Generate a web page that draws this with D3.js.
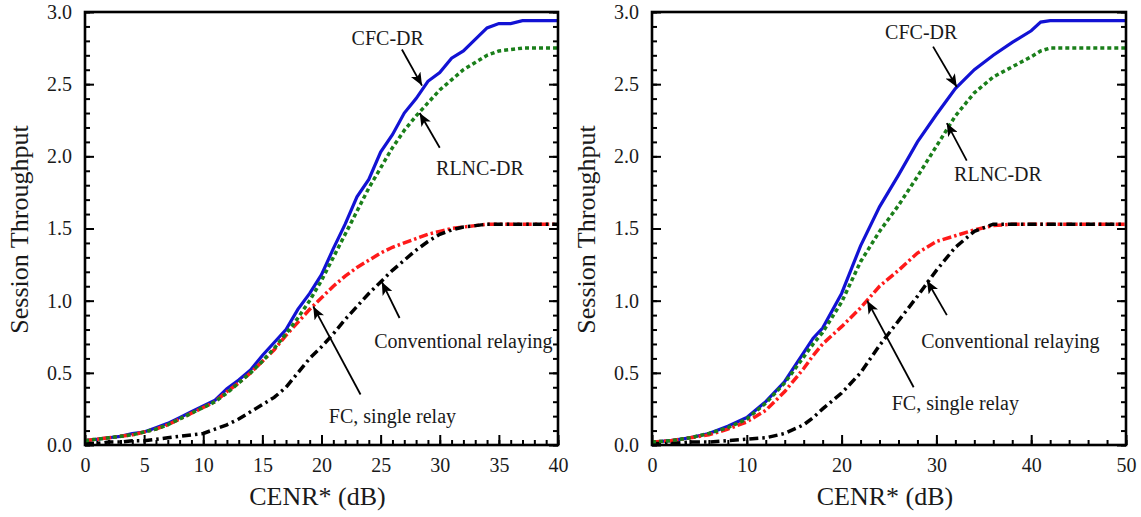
<!DOCTYPE html>
<html>
<head>
<meta charset="utf-8">
<script src="https://cdn.jsdelivr.net/npm/d3@7"></script>
<style>
  body { margin: 0; background: #fff; }
  text { font-family: "Liberation Serif", "Times New Roman", serif; fill: #1a1a1a; }
</style>
</head>
<body>
<div id="canvas"></div>
<script>
// ---- data ----
const snrLeft = d3.range(0, 41, 1);
const cfcLeft = [0.03, 0.04, 0.05, 0.06, 0.08, 0.09, 0.12, 0.15, 0.19, 0.23, 0.27, 0.31, 0.39, 0.45, 0.52, 0.62, 0.71, 0.80, 0.94, 1.05, 1.18, 1.36, 1.53, 1.72, 1.84, 2.03, 2.15, 2.30, 2.40, 2.52, 2.58, 2.68, 2.73, 2.81, 2.89, 2.92, 2.92, 2.94, 2.94, 2.94, 2.94];
const rlncLeft = [0.03, 0.04, 0.05, 0.06, 0.07, 0.09, 0.11, 0.14, 0.18, 0.22, 0.26, 0.30, 0.36, 0.43, 0.50, 0.58, 0.67, 0.77, 0.88, 1.00, 1.14, 1.30, 1.46, 1.62, 1.78, 1.92, 2.06, 2.18, 2.28, 2.37, 2.46, 2.53, 2.60, 2.65, 2.70, 2.73, 2.74, 2.75, 2.75, 2.75, 2.75];
const fcLeft = [0.03, 0.04, 0.05, 0.06, 0.07, 0.09, 0.11, 0.14, 0.18, 0.22, 0.26, 0.30, 0.37, 0.43, 0.50, 0.58, 0.66, 0.76, 0.85, 0.94, 1.02, 1.10, 1.17, 1.23, 1.28, 1.33, 1.37, 1.40, 1.43, 1.46, 1.48, 1.50, 1.51, 1.52, 1.53, 1.53, 1.53, 1.53, 1.53, 1.53, 1.53];
const convLeft = [0.01, 0.01, 0.02, 0.02, 0.03, 0.03, 0.04, 0.05, 0.06, 0.07, 0.08, 0.11, 0.14, 0.18, 0.23, 0.28, 0.33, 0.40, 0.50, 0.60, 0.68, 0.77, 0.87, 0.96, 1.05, 1.13, 1.21, 1.28, 1.35, 1.41, 1.46, 1.49, 1.51, 1.52, 1.53, 1.53, 1.53, 1.53, 1.53, 1.53, 1.53];

const snrRight = [0, 2, 4, 6, 8, 10, 12, 14, 16, 17, 18, 20, 22, 24, 26, 28, 30, 32, 34, 36, 38, 40, 41, 42, 44, 46, 48, 50];
const cfcRight = [0.02, 0.03, 0.05, 0.08, 0.13, 0.19, 0.30, 0.44, 0.64, 0.74, 0.81, 1.05, 1.38, 1.65, 1.87, 2.10, 2.29, 2.47, 2.60, 2.70, 2.79, 2.87, 2.93, 2.94, 2.94, 2.94, 2.94, 2.94];
const rlncRight = [0.02, 0.03, 0.05, 0.08, 0.12, 0.18, 0.29, 0.43, 0.61, 0.70, 0.78, 0.99, 1.27, 1.48, 1.66, 1.86, 2.07, 2.28, 2.44, 2.55, 2.62, 2.69, 2.73, 2.75, 2.75, 2.75, 2.75, 2.75];
const fcRight = [0.02, 0.03, 0.05, 0.07, 0.11, 0.16, 0.24, 0.37, 0.53, 0.62, 0.70, 0.82, 0.95, 1.10, 1.21, 1.33, 1.41, 1.45, 1.49, 1.52, 1.53, 1.53, 1.53, 1.53, 1.53, 1.53, 1.53, 1.53];
const convRight = [0.01, 0.01, 0.02, 0.02, 0.03, 0.04, 0.05, 0.08, 0.14, 0.19, 0.25, 0.36, 0.50, 0.69, 0.86, 1.03, 1.21, 1.37, 1.48, 1.53, 1.53, 1.53, 1.53, 1.53, 1.53, 1.53, 1.53, 1.53];

const yTicks = [0, 0.5, 1.0, 1.5, 2.0, 2.5, 3.0];
const xTicksLeft = [0, 5, 10, 15, 20, 25, 30, 35, 40];
const xTicksRight = [0, 10, 20, 30, 40, 50];

const seriesNames = ["CFC-DR", "FC, single relay", "Conventional relaying", "RLNC-DR"];

// ---- layout ----
const width = 1141;
const height = 517;

const styles = {
  "CFC-DR": { color: "#1212d4", dash: null, w: 3.2 },
  "FC, single relay": { color: "#ff1a1a", dash: "9,3,2.5,3", w: 3.5 },
  "Conventional relaying": { color: "#000", dash: "9,4,2.5,4", w: 3.5 },
  "RLNC-DR": { color: "#1a7f1a", dash: "4,3", w: 3.5 }
};

const svg = d3.select("#canvas").append("svg")
  .attr("width", width)
  .attr("height", height);

svg.append("defs").append("marker")
  .attr("id", "arrow")
  .attr("viewBox", "0 0 12 10")
  .attr("refX", 12)
  .attr("refY", 5)
  .attr("markerWidth", 7.5)
  .attr("markerHeight", 6)
  .attr("markerUnits", "strokeWidth")
  .attr("orient", "auto")
  .append("path")
  .attr("d", "M0,0 L12,5 L0,10 L3,5 Z")
  .attr("fill", "#000");

const panels = [
  {
    left: 85, right: 558, top: 12, bottom: 445,
    xMax: 40, xTicks: xTicksLeft, minorStep: 1,
    x: snrLeft, ys: [cfcLeft, fcLeft, convLeft, rlncLeft],
    notes: [
      { t: "CFC-DR", tx: 25.6, ty: 2.77, a: [26.8, 2.74, 28.5, 2.49] },
      { t: "RLNC-DR", tx: 33.4, ty: 1.87, a: [30.0, 2.06, 28.3, 2.30] },
      { t: "Conventional relaying", tx: 32.0, ty: 0.67, a: [26.6, 0.88, 25.1, 1.13] },
      { t: "FC, single relay", tx: 26.0, ty: 0.15, a: [23.3, 0.35, 19.3, 0.96] }
    ]
  },
  {
    left: 652, right: 1126, top: 12, bottom: 445,
    xMax: 50, xTicks: xTicksRight, minorStep: 2,
    x: snrRight, ys: [cfcRight, fcRight, convRight, rlncRight],
    notes: [
      { t: "CFC-DR", tx: 28.4, ty: 2.81, a: [29.65, 2.76, 32.15, 2.48] },
      { t: "RLNC-DR", tx: 36.5, ty: 1.83, a: [33.2, 1.97, 31.1, 2.23] },
      { t: "Conventional relaying", tx: 37.8, ty: 0.67, a: [31.1, 0.90, 29.0, 1.14] },
      { t: "FC, single relay", tx: 32.0, ty: 0.24, a: [27.6, 0.40, 22.7, 1.00] }
    ]
  }
];

panels.forEach(p => {
  const iw = p.right - p.left;
  const ih = p.bottom - p.top;
  const g = svg.append("g").attr("transform", `translate(${p.left},${p.top})`);

  const x = d3.scaleLinear().domain([0, p.xMax]).range([0, iw]);
  const y = d3.scaleLinear().domain([0, 3]).range([ih, 0]);

  const yMinor = d3.range(0, 3.001, 0.1).map(v => +v.toFixed(1));
  const xMinor = d3.range(0, p.xMax + 0.001, p.minorStep);

  // minor ticks
  g.append("g").call(d3.axisLeft(y).tickValues(yMinor).tickSize(-5).tickFormat(""));
  g.append("g").attr("transform", `translate(${iw},0)`)
    .call(d3.axisRight(y).tickValues(yMinor).tickSize(-5).tickFormat(""));
  g.append("g").attr("transform", `translate(0,${ih})`)
    .call(d3.axisBottom(x).tickValues(xMinor).tickSize(-5).tickFormat(""));

  // major ticks + labels
  g.append("g").attr("class", "yax")
    .call(d3.axisLeft(y).tickValues(yTicks).tickSize(-9).tickPadding(13).tickFormat(d3.format(".1f")));
  g.append("g").attr("transform", `translate(${iw},0)`)
    .call(d3.axisRight(y).tickValues(yTicks).tickSize(-9).tickFormat(""));
  g.append("g").attr("class", "xax").attr("transform", `translate(0,${ih})`)
    .call(d3.axisBottom(x).tickValues(p.xTicks).tickSize(-10).tickPadding(13).tickFormat(d3.format("d")));

  g.selectAll(".domain").remove();
  g.selectAll(".tick line").attr("stroke", "#000").attr("stroke-width", 2);
  g.selectAll(".tick text")
    .style("font-family", '"Liberation Serif", "Times New Roman", serif')
    .style("font-size", "20px")
    .attr("fill", "#1a1a1a");

  // series
  const line = d3.line().x(d => x(d[0])).y(d => y(d[1]));
  p.ys.forEach((vals, i) => {
    const st = styles[seriesNames[i]];
    g.append("path")
      .datum(p.x.map((v, j) => [v, vals[j]]))
      .attr("fill", "none")
      .attr("stroke", st.color)
      .attr("stroke-width", st.w)
      .attr("stroke-dasharray", st.dash)
      .attr("d", line);
  });

  // frame
  g.append("rect")
    .attr("width", iw).attr("height", ih)
    .attr("fill", "none").attr("stroke", "#000").attr("stroke-width", 2.6);

  // annotations
  p.notes.forEach(n => {
    g.append("line")
      .attr("x1", x(n.a[0])).attr("y1", y(n.a[1]))
      .attr("x2", x(n.a[2])).attr("y2", y(n.a[3]))
      .attr("stroke", "#000").attr("stroke-width", 1.8)
      .attr("marker-end", "url(#arrow)");
    g.append("text")
      .attr("x", x(n.tx)).attr("y", y(n.ty))
      .attr("text-anchor", "middle")
      .style("font-size", "20px")
      .text(n.t);
  });

  // axis titles
  g.append("text")
    .attr("x", iw / 2 - 4).attr("y", ih + 60)
    .attr("text-anchor", "middle")
    .style("font-size", "26px")
    .text("CENR* (dB)");

  g.append("text")
    .attr("transform", `translate(${-57},${ih / 2 + 1}) rotate(-90)`)
    .attr("text-anchor", "middle")
    .style("font-size", "26px")
    .text("Session Throughput");
});
</script>
</body>
</html>
